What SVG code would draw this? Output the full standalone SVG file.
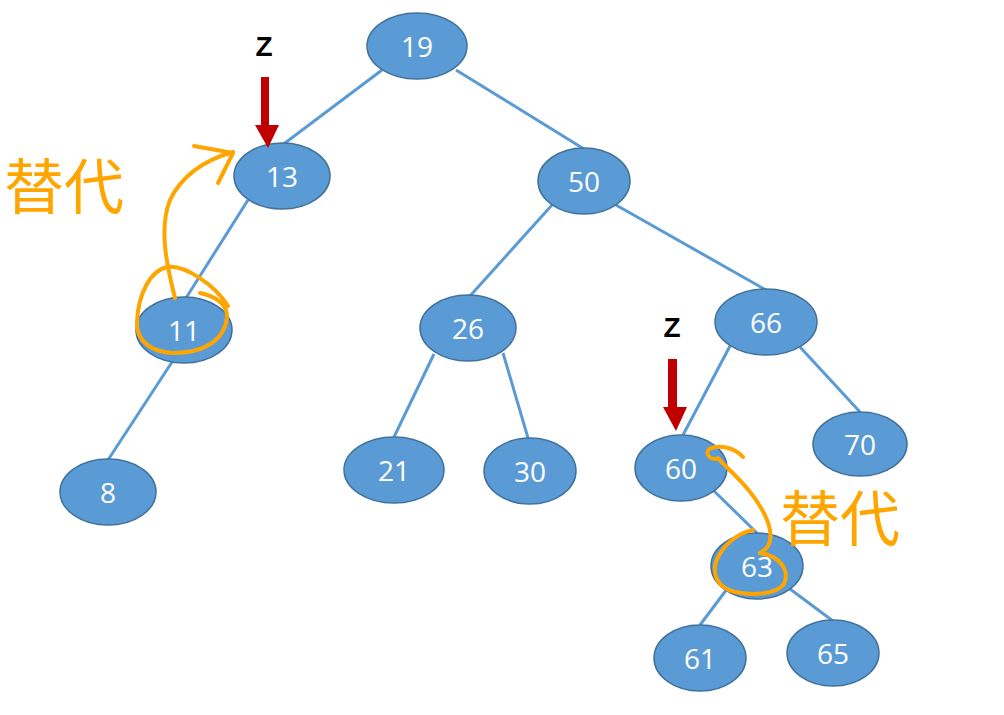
<svg xmlns="http://www.w3.org/2000/svg" width="1004" height="715" viewBox="0 0 1004 715">
<style>
.edge{stroke:#5B9BD5;stroke-width:3;fill:none}
.node ellipse{fill:#5B9BD5;stroke:#41719C;stroke-width:1.5}
.node text{fill:#fff;font-family:"Open Sans","Liberation Sans",sans-serif;font-size:28px;text-anchor:middle;dominant-baseline:central}
.z{font-family:"Liberation Sans",Arial,sans-serif;font-weight:bold;font-size:28px;fill:#000;text-anchor:middle}
.ptr{fill:#C00000}
.hand{stroke:#FFA500;stroke-width:4;fill:none;stroke-linecap:round;stroke-linejoin:round}
.note{fill:#FFA500;font-family:"Noto Sans CJK SC","Noto Sans CJK JP",sans-serif;font-size:60px;font-weight:400}
</style>
<rect width="1004" height="715" fill="#fff"/>
<g id="connectors">
<line class="edge" x1="382" y1="70" x2="281" y2="146"/>
<line class="edge" x1="456" y1="70" x2="584" y2="149"/>
<line class="edge" x1="248" y1="200" x2="186" y2="298"/>
<line class="edge" x1="172" y1="362" x2="108" y2="460"/>
<line class="edge" x1="552" y1="205" x2="470" y2="296"/>
<line class="edge" x1="616" y1="205" x2="766" y2="290"/>
<line class="edge" x1="434" y1="354" x2="394" y2="437"/>
<line class="edge" x1="503" y1="353" x2="528" y2="438"/>
<line class="edge" x1="730" y1="346" x2="683" y2="435"/>
<line class="edge" x1="800" y1="347" x2="860" y2="412"/>
<line class="edge" x1="714" y1="491" x2="757" y2="533"/>
<line class="edge" x1="727" y1="589" x2="700" y2="625"/>
<line class="edge" x1="790" y1="589" x2="833" y2="621"/>
</g>
<g id="n19" class="node"><ellipse cx="417" cy="46" rx="50" ry="33"/><text x="417" y="46">19</text></g>
<g id="n13" class="node"><ellipse cx="282" cy="176" rx="48" ry="33"/><text x="282" y="176">13</text></g>
<g id="n11" class="node"><ellipse cx="184" cy="330" rx="48" ry="33"/><text x="184" y="330">11</text></g>
<g id="n8" class="node"><ellipse cx="108" cy="492" rx="48" ry="33"/><text x="108" y="492">8</text></g>
<g id="n50" class="node"><ellipse cx="584" cy="181" rx="46" ry="33"/><text x="584" y="181">50</text></g>
<g id="n26" class="node"><ellipse cx="468" cy="328" rx="48" ry="33"/><text x="468" y="328">26</text></g>
<g id="n21" class="node"><ellipse cx="394" cy="470" rx="50" ry="33"/><text x="394" y="470">21</text></g>
<g id="n30" class="node"><ellipse cx="530" cy="471" rx="46" ry="33"/><text x="530" y="471">30</text></g>
<g id="n66" class="node"><ellipse cx="766" cy="322" rx="51" ry="33"/><text x="766" y="322">66</text></g>
<g id="n70" class="node"><ellipse cx="860" cy="444" rx="47" ry="32"/><text x="860" y="444">70</text></g>
<g id="n60" class="node"><ellipse cx="681" cy="468" rx="46" ry="33"/><text x="681" y="468">60</text></g>
<g id="n63" class="node"><ellipse cx="757" cy="566" rx="46" ry="33"/><text x="757" y="566">63</text></g>
<g id="n61" class="node"><ellipse cx="700" cy="658" rx="46" ry="33"/><text x="700" y="658">61</text></g>
<g id="n65" class="node"><ellipse cx="833" cy="653" rx="46" ry="33"/><text x="833" y="653">65</text></g>
<g id="pointer-left">
<text class="z" x="264" y="56">Z</text>
<polygon class="ptr" points="261,77 269,77 269,125 279,125 268,148 255,125 261,125"/>
</g>
<g id="pointer-right">
<text class="z" x="672" y="337">Z</text>
<polygon class="ptr" points="668,359 677,359 677,407 687,407 676,431 663,407 668,407"/>
</g>
<g id="replace-left">
<path class="hand" d="M200,293 C215,296 228,304 227,318 C224,340 205,353 173,353 C150,352 136,340 137,322 C138,295 150,270 168,267 C185,265 215,285 228,306"/>
<path class="hand" d="M175,298 C168,270 158,230 170,200 C182,175 205,160 233,152"/>
<path class="hand" d="M194,146 L233,153 L218,183"/>
<text class="note" x="4" y="209">替代</text>
</g>
<g id="replace-right">
<path class="hand" d="M743,457 C735,448 720,444 709,449 C704,455 712,461 718,458 C728,470 755,490 767,520 C774,538 770,548 760,553"/>
<path class="hand" d="M760,553 C780,556 790,570 784,584 C776,594 755,596 735,592 C718,588 712,575 716,562 C722,545 738,533 753,530"/>
<text class="note" x="780" y="541">替代</text>
</g>
</svg>
